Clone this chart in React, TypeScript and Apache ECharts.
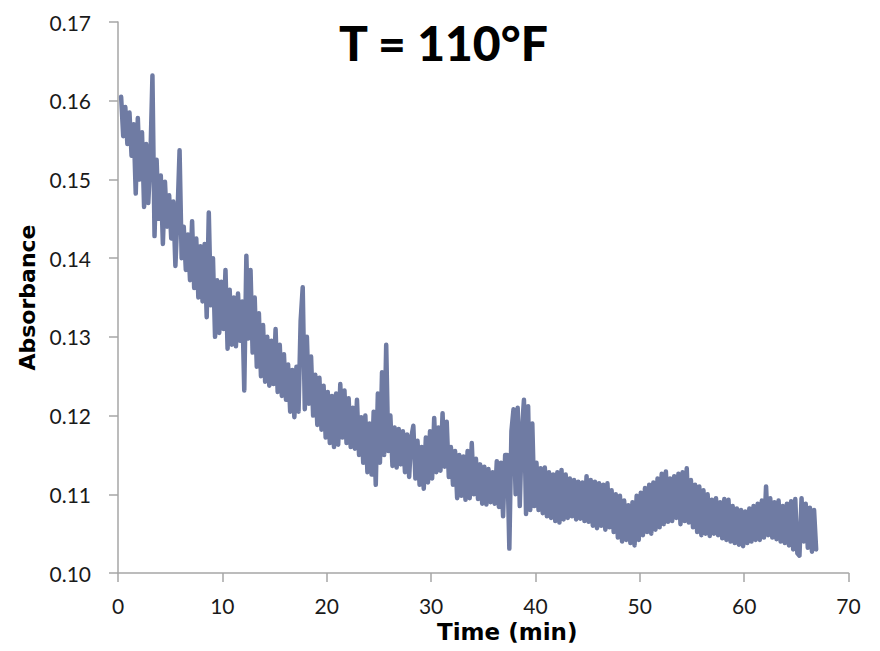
import React, { useEffect, useRef } from "react";
import * as echarts from "echarts";

// Sampling of the absorbance trace (minutes)
const sampleStartMin = 0.3;
const sampleStepMin = 0.2;

// Absorbance readings, one row per minute (5 samples each)
const absorbance: number[] = [
  0.1605, 0.1555, 0.1592, 0.1545, 0.1585,
  0.1530, 0.1570, 0.1482, 0.1578, 0.1500,
  0.1560, 0.1465, 0.1545, 0.1470, 0.1525,
  0.1632, 0.1428, 0.1525, 0.1450, 0.1505,
  0.1418, 0.1497, 0.1440, 0.1480, 0.1425,
  0.1472, 0.1390, 0.1455, 0.1537, 0.1400,
  0.1440, 0.1385, 0.1430, 0.1372, 0.1447,
  0.1362, 0.1425, 0.1350, 0.1415, 0.1345,
  0.1418, 0.1325, 0.1458, 0.1340, 0.1400,
  0.1300, 0.1372, 0.1305, 0.1370, 0.1310,
  0.1385, 0.1285, 0.1360, 0.1290, 0.1350,
  0.1288, 0.1355, 0.1295, 0.1345, 0.1232,
  0.1403, 0.1298, 0.1385, 0.1280, 0.1350,
  0.1262, 0.1330, 0.1250, 0.1315, 0.1243,
  0.1300, 0.1238, 0.1295, 0.1240, 0.1310,
  0.1230, 0.1290, 0.1225, 0.1278, 0.1220,
  0.1265, 0.1205, 0.1258, 0.1198, 0.1262,
  0.1205, 0.1320, 0.1363, 0.1208, 0.1300,
  0.1215, 0.1275, 0.1200, 0.1252, 0.1188,
  0.1248, 0.1182, 0.1238, 0.1172, 0.1230,
  0.1165, 0.1225, 0.1160, 0.1228, 0.1163,
  0.1240, 0.1172, 0.1232, 0.1165, 0.1222,
  0.1160, 0.1210, 0.1158, 0.1220, 0.1150,
  0.1198, 0.1140, 0.1200, 0.1128, 0.1190,
  0.1125, 0.1205, 0.1112, 0.1228, 0.1140,
  0.1255, 0.1150, 0.1290, 0.1155, 0.1200,
  0.1136, 0.1185, 0.1134, 0.1183, 0.1138,
  0.1180, 0.1128, 0.1176, 0.1122, 0.1172,
  0.1187, 0.1120, 0.1168, 0.1112, 0.1160,
  0.1107, 0.1172, 0.1115, 0.1180, 0.1120,
  0.1197, 0.1128, 0.1185, 0.1130, 0.1203,
  0.1135, 0.1192, 0.1122, 0.1160, 0.1112,
  0.1155, 0.1095, 0.1150, 0.1098, 0.1148,
  0.1093, 0.1155, 0.1095, 0.1165, 0.1100,
  0.1145, 0.1094, 0.1138, 0.1088, 0.1135,
  0.1087, 0.1132, 0.1090, 0.1128, 0.1088,
  0.1142, 0.1084, 0.1140, 0.1072, 0.1150,
  0.1150, 0.1031, 0.1180, 0.1208, 0.1100,
  0.1210, 0.1085, 0.1180, 0.1220, 0.1075,
  0.1212, 0.1080, 0.1190, 0.1085, 0.1140,
  0.1080, 0.1133, 0.1076, 0.1134, 0.1072,
  0.1128, 0.1070, 0.1125, 0.1066, 0.1128,
  0.1064, 0.1131, 0.1068, 0.1125, 0.1070,
  0.1120, 0.1072, 0.1118, 0.1068, 0.1116,
  0.1069, 0.1115, 0.1066, 0.1123, 0.1065,
  0.1118, 0.1060, 0.1116, 0.1057, 0.1114,
  0.1060, 0.1112, 0.1055, 0.1114, 0.1058,
  0.1105, 0.1052, 0.1100, 0.1045, 0.1098,
  0.1040, 0.1092, 0.1042, 0.1086, 0.1038,
  0.1090, 0.1035, 0.1098, 0.1042, 0.1102,
  0.1048, 0.1108, 0.1052, 0.1112, 0.1050,
  0.1115, 0.1055, 0.1120, 0.1058, 0.1126,
  0.1062, 0.1129, 0.1065, 0.1120, 0.1066,
  0.1123, 0.1070, 0.1126, 0.1062, 0.1128,
  0.1066, 0.1133, 0.1064, 0.1118, 0.1058,
  0.1112, 0.1052, 0.1110, 0.1048, 0.1105,
  0.1050, 0.1100, 0.1047, 0.1093, 0.1050,
  0.1095, 0.1048, 0.1090, 0.1044, 0.1094,
  0.1042, 0.1093, 0.1040, 0.1085, 0.1038,
  0.1082, 0.1036, 0.1080, 0.1034, 0.1078,
  0.1038, 0.1082, 0.1040, 0.1085, 0.1042,
  0.1088, 0.1042, 0.1092, 0.1045, 0.1110,
  0.1048, 0.1095, 0.1045, 0.1090, 0.1043,
  0.1092, 0.1040, 0.1085, 0.1038, 0.1088,
  0.1035, 0.1091, 0.1030, 0.1094, 0.1025,
  0.1022, 0.1095, 0.1040, 0.1088, 0.1032,
  0.1083, 0.1027, 0.1080, 0.1030,
];

const titleText = "T = 110°F";
const xAxisTitle = "Time (min)";
const yAxisTitle = "Absorbance";
const xTicks = { min: 0, max: 70, interval: 10 };
const yTicks = { min: 0.1, max: 0.17, interval: 0.01 };

const FONT = "Lato, 'Open Sans', sans-serif";
const BOLD_FONT = "'DejaVu Sans', sans-serif";

export default function App() {
  const ref = useRef<HTMLDivElement>(null);

  useEffect(() => {
    if (!ref.current) return;
    const chart = echarts.init(ref.current, undefined, { renderer: "svg" });
    const points = absorbance.map((v, i) => [
      +(sampleStartMin + i * sampleStepMin).toFixed(2),
      v,
    ]);
    chart.setOption({
      animation: false,
      backgroundColor: "#ffffff",
      title: {
        text: titleText,
        left: 334,
        top: 13,
        textStyle: {
          fontFamily: FONT,
          fontWeight: 900,
          fontSize: 48,
          color: "#000000",
        },
      },
      grid: { left: 118, right: 31.5, top: 22, bottom: 78 },
      xAxis: {
        type: "value",
        min: xTicks.min,
        max: xTicks.max,
        interval: xTicks.interval,
        name: xAxisTitle,
        nameLocation: "middle",
        nameGap: 47,
        nameTextStyle: {
          fontFamily: BOLD_FONT,
          fontWeight: "bold",
          fontSize: 23,
          color: "#000000",
          padding: [0, 0, 0, 48],
        },
        axisLine: { show: true, lineStyle: { color: "#a6a6a6", width: 1.5 } },
        axisTick: { show: true, length: 9, lineStyle: { color: "#a6a6a6", width: 1.5 } },
        axisLabel: {
          margin: 22,
          fontFamily: FONT,
          fontSize: 21,
          color: "#1a1a1a",
        },
        splitLine: { show: false },
      },
      yAxis: {
        type: "value",
        min: yTicks.min,
        max: yTicks.max,
        interval: yTicks.interval,
        name: yAxisTitle,
        nameLocation: "middle",
        nameGap: 74,
        nameTextStyle: {
          fontFamily: BOLD_FONT,
          fontWeight: "bold",
          fontSize: 22,
          color: "#000000",
        },
        axisLine: { show: true, lineStyle: { color: "#a6a6a6", width: 1.5 } },
        axisTick: { show: true, length: 9, lineStyle: { color: "#a6a6a6", width: 1.5 } },
        axisLabel: {
          margin: 27,
          fontFamily: FONT,
          fontSize: 21,
          color: "#1a1a1a",
          formatter: (v: number) => v.toFixed(2),
        },
        splitLine: { show: false },
      },
      series: [
        {
          type: "line",
          data: points,
          showSymbol: false,
          symbol: "none",
          lineStyle: { color: "#6f7ba3", width: 4.5, join: "round", cap: "round" },
          emphasis: { disabled: true },
        },
      ],
    });
    return () => chart.dispose();
  }, []);

  return (
    <div
      ref={ref}
      style={{ position: "fixed", left: 0, top: 0, width: 880, height: 651 }}
    />
  );
}
